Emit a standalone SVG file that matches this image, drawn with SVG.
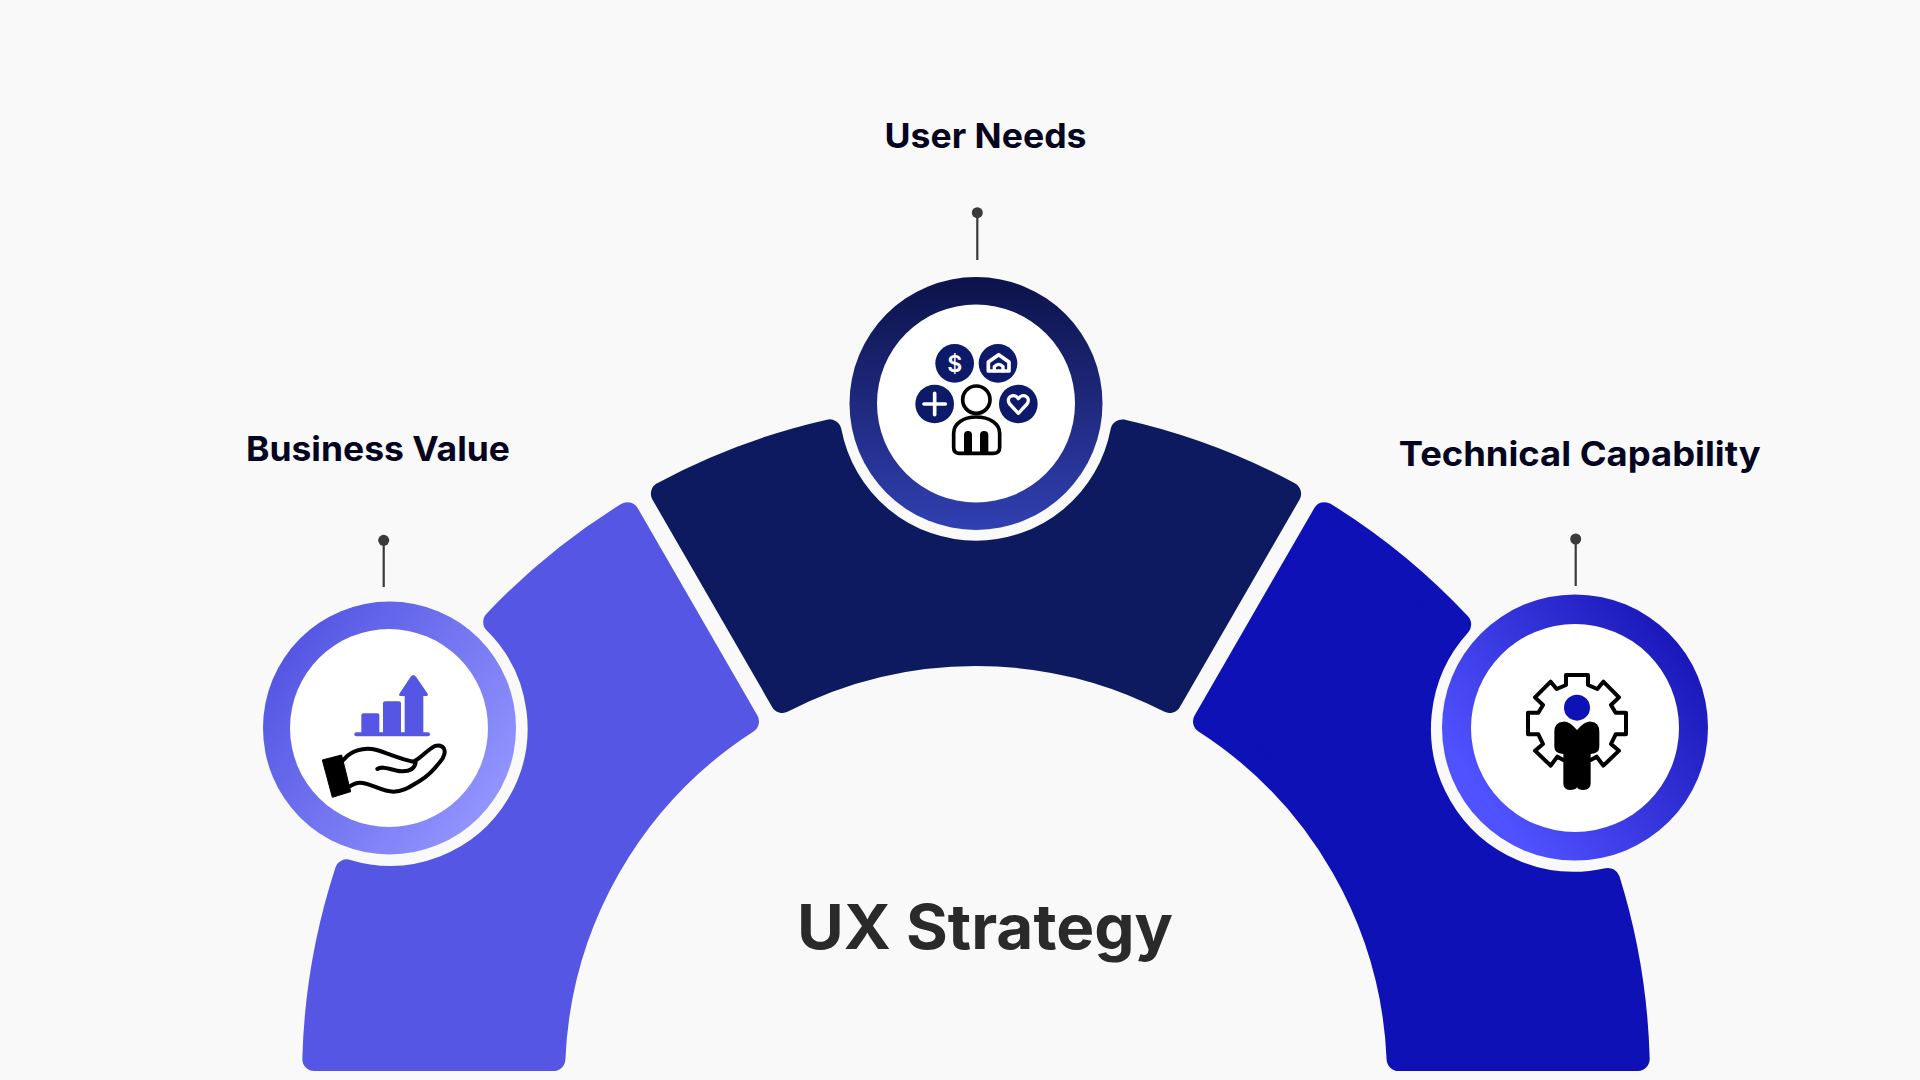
<svg xmlns="http://www.w3.org/2000/svg" width="1920" height="1080" viewBox="0 0 1920 1080">
<style>
.seg{stroke-width:24;stroke-linejoin:round}
.s1{fill:#5557E4;stroke:#5557E4}
.s2{fill:#0D1A5F;stroke:#0D1A5F}
.s3{fill:#0E11B6;stroke:#0E11B6}
.lab{font-family:"Inter","DejaVu Sans",sans-serif;font-weight:700;font-size:34px;fill:#05051F}
.title{font-family:"Inter","DejaVu Sans",sans-serif;font-weight:700;font-size:62px;fill:#2A2A2A}
.pin{stroke:#3A3A3A;stroke-width:2.2;fill:none}
.dot{fill:#3A3A3A}
.w{fill:none;stroke:#fff;stroke-linecap:round;stroke-linejoin:round}
.k{fill:none;stroke:#000;stroke-linecap:round;stroke-linejoin:round;stroke-width:12}
.navy{fill:#0D1A6A}
.viol{fill:#5557E4}
</style>
<defs>
<linearGradient id="gMid" x1="0" y1="0" x2="0" y2="1"><stop offset="0" stop-color="#0C1249"/><stop offset="1" stop-color="#3140B2"/></linearGradient>
<linearGradient id="gLeft" x1="0.1" y1="0.2" x2="0.95" y2="0.8"><stop offset="0" stop-color="#5557E4"/><stop offset="1" stop-color="#9496FF"/></linearGradient>
<linearGradient id="gRight" x1="0.95" y1="0.15" x2="0.15" y2="0.75"><stop offset="0" stop-color="#1614B4"/><stop offset="1" stop-color="#5052FF"/></linearGradient>
</defs>
<rect width="1920" height="1080" fill="#F9F9F9"/>

<g id="connectors">
<line class="pin" x1="977.3" y1="213" x2="977.3" y2="260"/><circle class="dot" cx="977.3" cy="212.7" r="5.5"/>
<line class="pin" x1="383.7" y1="540" x2="383.7" y2="587"/><circle class="dot" cx="383.7" cy="540.3" r="5.5"/>
<line class="pin" x1="1575.7" y1="539" x2="1575.7" y2="586"/><circle class="dot" cx="1575.7" cy="539" r="5.5"/>
</g>

<g id="business-value">
<path class="seg s1" d="M314.3 1059A662 662 0 0 1 346.8 871.4A149.5 149.5 0 0 0 495.2 622A662 662 0 0 1 627.4 514.2L747 721.4A423 423 0 0 0 553.4 1059Z"/>
<circle cx="389.5" cy="728" r="126.5" fill="url(#gLeft)"/>
<circle cx="389" cy="728" r="99" fill="#fff"/>
<g transform="translate(250 590) scale(.33333)">
<path d="M319 433H534" stroke="#5557E4" stroke-width="12" stroke-linecap="round"/>
<path class="viol" d="M334 376Q334 370 340 370H382Q388 370 388 376V433H334Z"/>
<path class="viol" d="M399 340Q399 334 405 334H447Q453 334 453 340V433H399Z"/>
<path class="viol" d="M464 433V318H452Q444 318 449 310L482 260Q490 250 498 260L532 310Q537 318 529 318H520V433Z"/>
<path d="M217 510L275 495L302 605L247 622Z" fill="#000" stroke="#000" stroke-width="3" stroke-linejoin="round"/>
<path class="k" d="M280 510C300 485 340 468 380 480C415 490 450 508 490 515C510 508 530 480 555 468C580 462 592 480 578 505C560 530 540 555 510 572C480 590 460 605 430 605C395 605 360 578 330 578C315 578 305 585 298 590"/>
<path class="k" d="M382 537C400 525 425 542 455 544C480 545 495 535 497 517"/>
</g>
</g>

<g id="user-needs">
<path class="seg s2" d="M662.9 493.7A662 662 0 0 1 829.6 431.4A149 149 0 0 0 1122.4 431.4A662 662 0 0 1 1289.1 493.7L1169.5 700.9A423 423 0 0 0 782.5 700.9Z"/>
<circle cx="976" cy="403.5" r="126.5" fill="url(#gMid)"/>
<circle cx="976" cy="403.5" r="99" fill="#fff"/>
<g transform="translate(840 260) scale(.33333)">
<circle class="navy" cx="344" cy="310" r="58"/>
<circle class="navy" cx="474" cy="310" r="58"/>
<circle class="navy" cx="284" cy="432" r="58"/>
<circle class="navy" cx="535" cy="432" r="58"/>
<path class="w" stroke-width="11" d="M445 306L476 284L507 306V333H445Z"/>
<path class="w" stroke-width="10" d="M463 333V320Q476 306 489 320V333"/>
<path class="w" stroke-width="11" d="M252 432H316M284 400V464"/>
<path class="w" stroke-width="10" d="M535 460L509 432C495 412 522 396 535 416C548 396 575 412 561 432Z"/>
<circle cx="409" cy="419" r="41" fill="#fff" stroke="#000" stroke-width="11"/>
<path class="k" d="M341 520C341 490 370 471 409 471C448 471 479 490 479 520V562Q479 580 461 580H357Q341 580 341 562Z" style="stroke-width:11;fill:#fff"/>
<path d="M372 578V525Q372 513 384 513Q396 513 396 525V578ZM420 578V525Q420 513 432 513Q445 513 445 525V578Z" fill="#000"/>
</g>
<text x="954.7" y="371.5" text-anchor="middle" font-family="Inter,'DejaVu Sans',sans-serif" font-weight="600" font-size="23" fill="#fff">$</text>
</g>

<g id="technical-capability">
<path class="seg s3" d="M1324.6 514.2A662 662 0 0 1 1459.2 624.5A155 155 0 0 0 1608 879.9A662 662 0 0 1 1637.7 1059H1398.6A423 423 0 0 0 1205 721.4Z"/>
<circle cx="1575" cy="727.5" r="133" fill="url(#gRight)"/>
<circle cx="1575" cy="728" r="104" fill="#fff"/>
<g transform="translate(1435 590) scale(.33333)">
<path class="k" d="M385 510L367 500L347 527L300 482L324 462L310 433H279V368H310L324 345L300 322L347 275L365 297L393 285V255H459V285L487 297L505 275L552 322L528 345L542 368H573V433H542L528 462L552 482L505 527L485 500L467 510"/>
<circle cx="426" cy="353" r="39" fill="#0E11B6"/>
<path d="M385 395Q402 393 426 420Q450 393 468 395Q493 397 493 425V470Q493 490 467 492V580Q467 600 445 600Q430 600 426 592Q422 600 405 600Q385 600 385 580V492Q358 490 358 470V425Q358 397 385 395Z" fill="#000"/>
</g>
</g>

<text class="lab" x="884.5" y="148" textLength="202" lengthAdjust="spacingAndGlyphs">User Needs</text>
<text class="lab" x="246" y="461" textLength="264" lengthAdjust="spacingAndGlyphs">Business Value</text>
<text class="lab" x="1398.7" y="466" textLength="362" lengthAdjust="spacingAndGlyphs">Technical Capability</text>
<text class="title" x="797" y="949" textLength="376" lengthAdjust="spacingAndGlyphs">UX Strategy</text>
</svg>
